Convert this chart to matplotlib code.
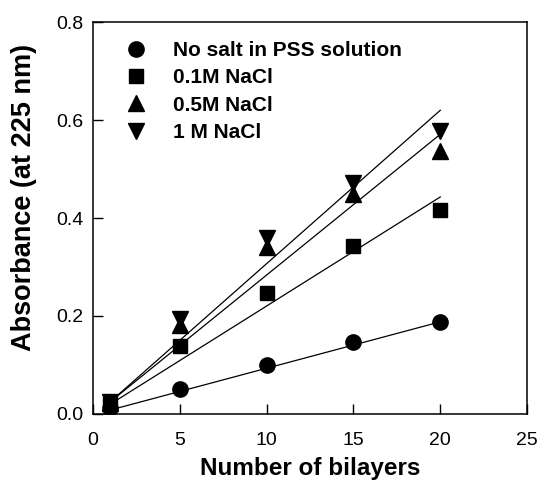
import numpy as np
import matplotlib
matplotlib.use("Agg")
import matplotlib.pyplot as plt

plt.rcParams['font.family'] = ['Liberation Sans', 'DejaVu Sans']

# data
bilayers = [1, 5, 10, 15, 20]
no_salt = [0.012, 0.051, 0.100, 0.147, 0.188]
nacl_01 = [0.020, 0.138, 0.246, 0.343, 0.416]
nacl_05 = [0.022, 0.182, 0.340, 0.449, 0.536]
nacl_1 = [0.025, 0.194, 0.360, 0.471, 0.577]

# linear fits (value at first and last bilayer count)
fit_x = [1, 20]
fit_no_salt = [0.008, 0.188]
fit_01 = [0.020, 0.443]
fit_05 = [0.025, 0.571]
fit_1 = [0.025, 0.620]

labels = ["No salt in PSS solution", "0.1M NaCl", "0.5M NaCl", "1 M NaCl"]
markers = ['o', 's', '^', 'v']
sizes = [11, 10, 11, 11]

fig = plt.figure(figsize=(5.44, 4.91), dpi=100)
ax = fig.add_axes([0.171, 0.157, 0.798, 0.798])

for fy in [fit_no_salt, fit_01, fit_05, fit_1]:
    ax.plot(fit_x, fy, color='black', lw=0.9, zorder=2)

handles = []
for ys, m, s, lab in zip([no_salt, nacl_01, nacl_05, nacl_1], markers, sizes, labels):
    h, = ax.plot(bilayers, ys, linestyle='none', marker=m, markersize=s,
                 color='black', label=lab, zorder=3)
    handles.append(h)

ax.set_xlim(0, 25)
ax.set_ylim(0, 0.8)
ax.set_xticks([0, 5, 10, 15, 20, 25])
ax.set_yticks([0.0, 0.2, 0.4, 0.6, 0.8])
ax.set_yticklabels(['0.0', '0.2', '0.4', '0.6', '0.8'])
ax.tick_params(direction='in', length=7, width=1, labelsize=14)
ax.tick_params(axis='x', pad=13)
ax.tick_params(axis='y', pad=7)
for sp in ax.spines.values():
    sp.set_linewidth(1.1)

ax.set_xlabel("Number of bilayers", fontsize=17.5, fontweight='bold')
ax.set_ylabel("Absorbance (at 225 nm)", fontsize=19.5, fontweight='bold')
ax.xaxis.set_label_coords(0.5, -0.11)
ax.yaxis.set_label_coords(-0.128, 0.553)

leg = ax.legend(handles=handles, loc='upper left', bbox_to_anchor=(0.02, 1.0),
                frameon=False, prop={'size': 15, 'weight': 'bold'},
                handletextpad=1.0, labelspacing=0.4, handlelength=1.5)

fig.savefig("out.png", dpi=100)
